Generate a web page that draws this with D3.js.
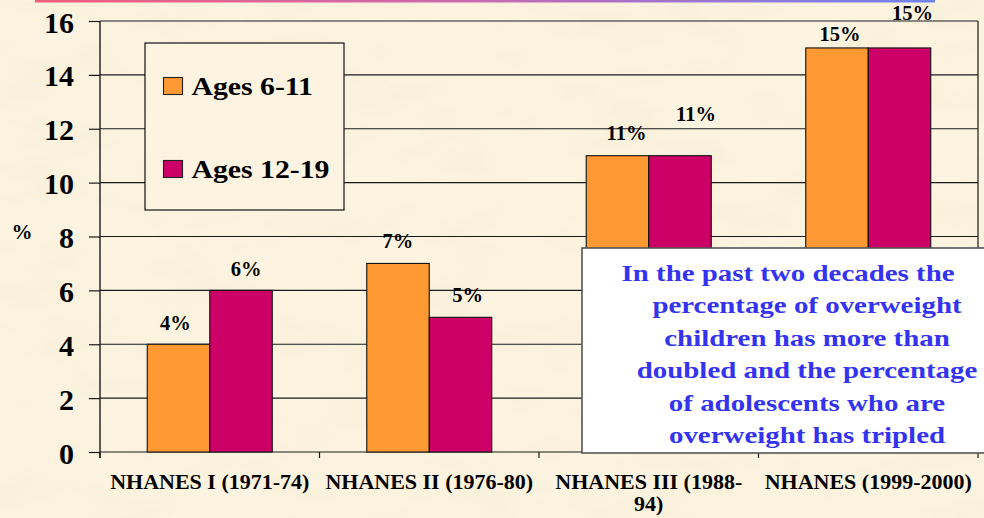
<!DOCTYPE html>
<html>
<head>
<meta charset="utf-8">
<script src="https://cdn.jsdelivr.net/npm/d3@7/dist/d3.min.js"></script>
<style>
  html, body { margin: 0; padding: 0; background: #FCF4E0; overflow: hidden; }
  svg { display: block; }
</style>
</head>
<body>
<svg id="chart" width="984" height="518"></svg>
<script>
// ---------- data ----------
const categories = ["NHANES I (1971-74)", "NHANES II (1976-80)", "NHANES III (1988-94)", "NHANES (1999-2000)"];
const seriesNames = ["Ages 6-11", "Ages 12-19"];
const ages6to11 = [4, 7, 11, 15];
const ages12to19 = [6, 5, 11, 15];
const yTicks = [0, 2, 4, 6, 8, 10, 12, 14, 16];
const axisTitle = "%";
const noteLines = [
  "In the past two decades the",
  "percentage of overweight",
  "children has more than",
  "doubled and the percentage",
  "of adolescents who are",
  "overweight has tripled"
];

// ---------- layout / style (not data) ----------
const W = 984, H = 518;
const plot = { left: 100, right: 978, top: 21, bottom: 452 };
const colors = ["#FF9933", "#CC0066"];
const serif = "'Liberation Serif', 'Times New Roman', serif";
// small per-label nudges [dx, dy] relative to bar top-centre
const labelNudge = [
  [[-3, -14], [5, -14]],
  [[0, -15], [7, -15]],
  [[9, -16], [16, -35]],
  [[3, -7], [13, -28]]
];

const svg = d3.select("#chart");
const defs = svg.append("defs");

// paper texture
const f = defs.append("filter").attr("id", "paper").attr("x", 0).attr("y", 0).attr("width", "100%").attr("height", "100%");
f.append("feTurbulence").attr("type", "fractalNoise").attr("baseFrequency", "0.012 0.025").attr("numOctaves", 3).attr("seed", 7).attr("result", "n");
f.append("feColorMatrix").attr("in", "n").attr("type", "matrix")
  .attr("values", "0 0 0 0 0.91  0 0 0 0 0.84  0 0 0 0 0.66  1.1 0 0 0 -0.42");

const grad = defs.append("linearGradient").attr("id", "strip").attr("x1", "0%").attr("x2", "100%");
grad.append("stop").attr("offset", "0%").attr("stop-color", "#F2607A");
grad.append("stop").attr("offset", "50%").attr("stop-color", "#C86AB4");
grad.append("stop").attr("offset", "100%").attr("stop-color", "#6E84F0");

svg.append("rect").attr("width", W).attr("height", H).attr("fill", "#FCF4E0");
svg.append("rect").attr("width", W).attr("height", H).attr("filter", "url(#paper)");
svg.append("rect").attr("x", 35).attr("y", 0).attr("width", 900).attr("height", 2.5).attr("fill", "url(#strip)");

// helper: horizontally stretched text
function sText(g, x, y, txt, size, sx, anchor, color) {
  return g.append("text")
    .attr("transform", `translate(${x},${y}) scale(${sx},1)`)
    .attr("text-anchor", anchor || "middle")
    .attr("font-family", serif).attr("font-weight", "bold")
    .attr("font-size", size).attr("fill", color || "#000")
    .text(txt);
}

// ---------- scales ----------
const y = d3.scaleLinear().domain([0, 16]).range([plot.bottom, plot.top]);
const xCat = d3.scaleBand().domain(categories).range([plot.left, plot.right]).paddingInner(0).paddingOuter(0);
const x0 = d3.scaleBand().domain(categories).range([plot.left, plot.right]).paddingInner(0.4305).paddingOuter(0.21525);
const x1 = d3.scaleBand().domain(seriesNames).range([0, x0.bandwidth()]);

const values = [ages6to11, ages12to19];

// gridlines
const grid = svg.append("g");
grid.selectAll("line").data(yTicks).join("line")
  .attr("x1", plot.left).attr("x2", plot.right)
  .attr("y1", d => y(d)).attr("y2", d => y(d))
  .attr("stroke", "#1a1a1a").attr("stroke-width", 1.2);
// right frame
svg.append("line").attr("x1", plot.right).attr("x2", plot.right).attr("y1", plot.top).attr("y2", plot.bottom)
  .attr("stroke", "#1a1a1a").attr("stroke-width", 1.2);

// bars
const bars = svg.append("g");
seriesNames.forEach((s, si) => {
  bars.selectAll(null).data(categories).join("rect")
    .attr("x", c => x0(c) + x1(s))
    .attr("y", (c, i) => y(values[si][i]))
    .attr("width", x1.bandwidth())
    .attr("height", (c, i) => y(0) - y(values[si][i]))
    .attr("fill", colors[si])
    .attr("stroke", "#111").attr("stroke-width", 1.1);
});

// value labels
const lab = svg.append("g");
seriesNames.forEach((s, si) => {
  categories.forEach((c, i) => {
    const v = values[si][i];
    const nx = labelNudge[i][si];
    sText(lab, x0(c) + x1(s) + x1.bandwidth() / 2 + nx[0], y(v) + nx[1], v + "%", 20.5, 1, "middle");
  });
});

// y axis
const yAxis = d3.axisLeft(y).tickValues(yTicks).tickSize(11).tickSizeOuter(0).tickPadding(15);
const ga = svg.append("g").attr("transform", `translate(${plot.left},0)`).call(yAxis);
ga.select(".domain").remove();
ga.selectAll(".tick line").attr("stroke", "#1a1a1a").attr("stroke-width", 1.2);
ga.selectAll(".tick text").attr("font-family", serif).attr("font-weight", "bold")
  .attr("font-size", 30).attr("fill", "#000").attr("dy", "0.37em");
svg.append("line").attr("x1", plot.left).attr("x2", plot.left).attr("y1", plot.top).attr("y2", plot.bottom + 6)
  .attr("stroke", "#1a1a1a").attr("stroke-width", 1.4);

// x axis ticks at band boundaries
const bounds = categories.map(c => xCat(c)).concat([plot.right]);
svg.append("g").selectAll("line").data(bounds).join("line")
  .attr("x1", d => d).attr("x2", d => d).attr("y1", plot.bottom).attr("y2", plot.bottom + 6)
  .attr("stroke", "#1a1a1a").attr("stroke-width", 1.2);

// x labels
const xl = svg.append("g");
categories.forEach(c => {
  const cx = xCat(c) + xCat.bandwidth() / 2;
  let lines = [c];
  if (c.length > 19) {
    const k = c.lastIndexOf("-") + 1;
    lines = [c.slice(0, k), c.slice(k)];
  }
  lines.forEach((t, li) => sText(xl, cx, 489 + li * 22, t, 20, 1.1, "middle"));
});

// axis title
sText(svg, 22, 239, axisTitle, 20, 1.05, "middle");

// legend
const lg = svg.append("g");
lg.append("rect").attr("x", 145).attr("y", 43).attr("width", 199).attr("height", 167)
  .attr("fill", "#FCF4E0").attr("stroke", "#111").attr("stroke-width", 1.2);
const legendRows = [77.5, 160.5];
seriesNames.forEach((s, si) => {
  lg.append("rect").attr("x", 163.5).attr("y", legendRows[si]).attr("width", 19).attr("height", 17)
    .attr("fill", colors[si]).attr("stroke", "#222").attr("stroke-width", 1.1);
  sText(lg, 191.5, legendRows[si] + 17.5, s, 25, 1.19, "start");
});

// annotation box
const nb = svg.append("g");
nb.append("rect").attr("x", 582).attr("y", 248).attr("width", 420).attr("height", 205)
  .attr("fill", "#FFFFFF").attr("stroke", "#555").attr("stroke-width", 1.6);
noteLines.forEach((t, i) => {
  const cx = i === 0 ? 788 : 807;
  sText(nb, cx, 280.7 + i * 32.5, t, 23.5, 1.23, "middle", "#3434F0");
});
</script>
</body>
</html>
